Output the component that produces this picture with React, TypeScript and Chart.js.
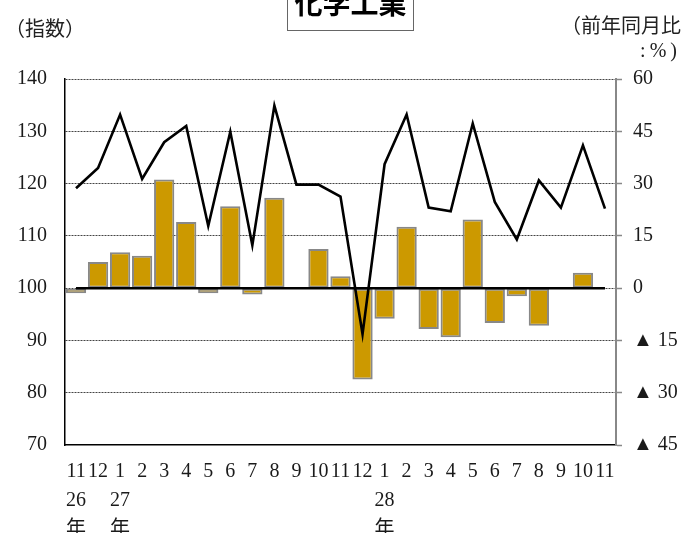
import React, { useEffect, useRef } from "react";
import { Chart, registerables } from "chart.js";

Chart.register(...registerables);

// ---- data ----
const months = ["11", "12", "1", "2", "3", "4", "5", "6", "7", "8", "9", "10", "11", "12", "1", "2", "3", "4", "5", "6", "7", "8", "9", "10", "11"];
const yearMarks: (string | null)[] = ["26", null, "27", null, null, null, null, null, null, null, null, null, null, null, "28", null, null, null, null, null, null, null, null, null, null];
// 指数 (left axis)
const indexValues = [119.1, 123.0, 133.2, 120.9, 127.9, 131.0, 111.9, 129.9, 108.2, 134.9, 119.8, 119.8, 117.5, 91.2, 123.7, 133.2, 115.4, 114.7, 131.5, 116.5, 109.3, 120.6, 115.4, 127.3, 115.2];
// 前年同月比 % (right axis)
const yoyValues: (number | null)[] = [-1.5, 7.5, 10.3, 9.3, 31.2, 19.0, -1.5, 23.5, -1.8, 25.9, 0, 11.2, 3.4, -26.2, -8.8, 17.6, -11.7, -14.1, 19.7, -10.0, -2.3, -10.8, 0.3, 4.4, null];
const zeroLine = months.map(() => 0);

const leftTicks = { min: 70, max: 140, step: 10 };
const rightTicks = { min: -45, max: 60, step: 15 };

const FONT = "'Liberation Serif', 'Noto Sans CJK JP', serif";

const titlePlugin = {
  id: "titles",
  afterDraw(chart: any) {
    const ctx = chart.ctx as CanvasRenderingContext2D;
    ctx.save();
    ctx.fillStyle = "#fff";
    ctx.fillRect(287, -2, 127, 33);
    ctx.strokeStyle = "#666";
    ctx.lineWidth = 1;
    ctx.strokeRect(287.5, -2, 126, 32.5);
    ctx.fillStyle = "#000";
    ctx.font = "bold 28px 'Noto Sans CJK JP', sans-serif";
    ctx.textAlign = "center";
    ctx.textBaseline = "alphabetic";
    ctx.fillText("化学工業", 350.5, 14);
    ctx.font = `20px 'Noto Sans CJK JP', ${FONT}`;
    ctx.fillStyle = "#222";
    ctx.textBaseline = "middle";
    ctx.textAlign = "left";
    ctx.fillText("（指数）", 5, 28);
    ctx.textAlign = "right";
    ctx.fillText("（前年同月比", 681, 25);
    ctx.font = `20px ${FONT}`;
    (ctx as any).letterSpacing = "4px";
    ctx.fillText(":%)", 681, 52);
    ctx.restore();
  },
};

export default function App() {
  const ref = useRef<HTMLCanvasElement | null>(null);
  useEffect(() => {
    document.body.style.margin = "0";
    const canvas = ref.current!;
    const labels = months.map((m, i) => (yearMarks[i] ? [m, yearMarks[i] as string, "年"] : m));
    const chart = new Chart(canvas, {
      type: "bar",
      data: {
        labels,
        datasets: [
          {
            type: "line",
            label: "指数",
            data: indexValues,
            yAxisID: "y",
            borderColor: "#000",
            borderWidth: 2.6,
            pointRadius: 0,
            tension: 0,
            order: 0,
          } as any,
          {
            type: "line",
            label: "zero",
            data: zeroLine,
            yAxisID: "y1",
            borderColor: "#000",
            borderWidth: 2.5,
            pointRadius: 0,
            order: 1,
          } as any,
          {
            type: "bar",
            label: "前年同月比",
            data: yoyValues,
            yAxisID: "y1",
            backgroundColor: "#CC9900",
            borderColor: "#888888",
            borderWidth: 2,
            borderSkipped: false,
            categoryPercentage: 1,
            barPercentage: 0.92,
            order: 2,
          } as any,
        ],
      },
      options: {
        responsive: false,
        animation: false,
        layout: { padding: { top: 79, left: 0, right: 0, bottom: 0 } },
        plugins: { legend: { display: false }, tooltip: { enabled: false } },
        scales: {
          x: {
            offset: true,
            grid: { display: false, drawTicks: false },
            border: { display: true, color: "#000", width: 1.5 },
            ticks: {
              autoSkip: false,
              maxRotation: 0,
              minRotation: 0,
              padding: 12,
              color: "#1a1a1a",
              font: { family: FONT, size: 20, lineHeight: 1.45 },
            },
            afterFit: (s: any) => {
              s.height = 88;
            },
          },
          y: {
            position: "left",
            min: leftTicks.min,
            max: leftTicks.max,
            ticks: {
              stepSize: leftTicks.step,
              padding: 18,
              color: "#1a1a1a",
              font: { family: FONT, size: 20 },
            },
            grid: {
              drawTicks: false,
              lineWidth: 1,
              color: (c: any) => (c.tick && c.tick.value === leftTicks.min ? "rgba(0,0,0,0)" : "#444"),
            },
            border: { display: true, color: "#000", width: 1.5, dash: [2, 1] },
            afterFit: (s: any) => {
              s.width = 65;
            },
          },
          y1: {
            position: "right",
            min: rightTicks.min,
            max: rightTicks.max,
            ticks: {
              stepSize: rightTicks.step,
              padding: 11,
              color: "#1a1a1a",
              font: { family: FONT, size: 20 },
              callback: (v: any) => (Number(v) < 0 ? "▲ " + -Number(v) : String(v)),
            },
            grid: {
              drawOnChartArea: false,
              drawTicks: true,
              tickLength: 6,
              tickColor: "#888",
              tickWidth: 1.5,
            },
            border: { display: true, color: "#888", width: 2 },
            afterFit: (s: any) => {
              s.width = 65;
            },
          },
        },
      },
      plugins: [titlePlugin],
    });
    return () => chart.destroy();
  }, []);
  return (
    <div style={{ width: 681, height: 533, background: "#fff" }}>
      <canvas ref={ref} width={681} height={533} style={{ display: "block" }} />
    </div>
  );
}
